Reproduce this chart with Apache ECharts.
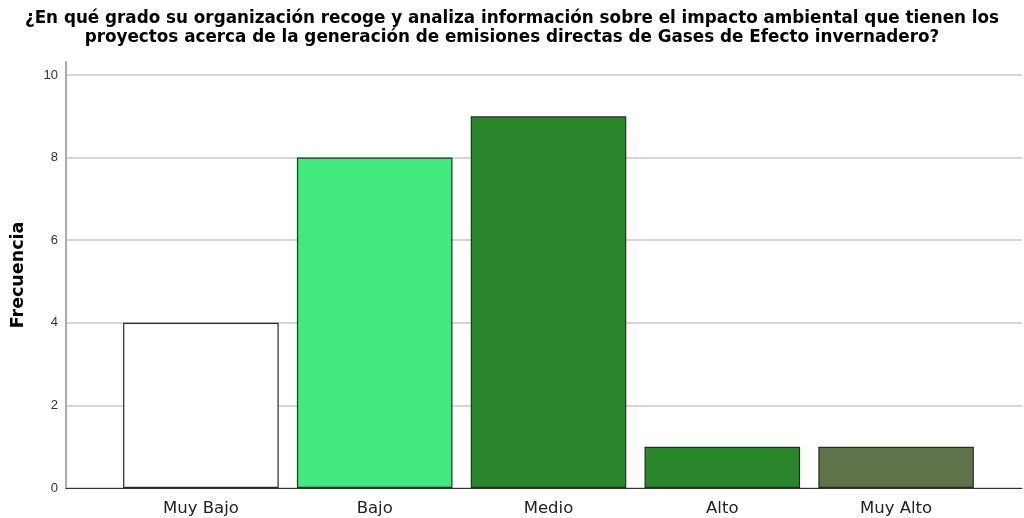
<!DOCTYPE html>
<html>
<head>
<meta charset="utf-8">
<script src="https://cdn.jsdelivr.net/npm/echarts@6/dist/echarts.min.js"></script>
<style>
  html, body { margin: 0; padding: 0; background: #fff; }
  #chart { width: 1024px; height: 518px; }
</style>
</head>
<body>
<div id="chart"></div>
<script>
const categories = ['Muy Bajo', 'Bajo', 'Medio', 'Alto', 'Muy Alto'];
const frecuencias = [4, 8, 9, 1, 1];
const barColors = ['#ffffff', '#42e97f', '#2a872b', '#2a872b', '#5e734a'];
const yTicks = [0, 2, 4, 6, 8, 10];

const chart = echarts.init(document.getElementById('chart'));
const font = '"DejaVu Sans", sans-serif';
const tickFont = 'Arial, "Liberation Sans", sans-serif';

const option = {
  animation: false,
  backgroundColor: '#fff',
  title: {
    text: '¿En qué grado su organización recoge y analiza información sobre el impacto ambiental que tienen los\nproyectos acerca de la generación de emisiones directas de Gases de Efecto invernadero?',
    left: 'center',
    top: 4,
    textStyle: { fontFamily: font, fontSize: 16.8, fontWeight: 'bold', color: '#000', lineHeight: 19 }
  },
  grid: [
    // frame grid: y axis + grid lines
    { left: 66, right: 2, top: 62, bottom: 30, outerBoundsMode: 'none', containLabel: false },
    // bars grid
    { left: 114, right: 41, top: 75, bottom: 30, outerBoundsMode: 'none', containLabel: false }
  ],
  xAxis: [
    {
      gridIndex: 0, type: 'category', data: [''],
      axisLine: { lineStyle: { color: '#333', width: 1 } },
      axisTick: { show: false }, axisLabel: { show: false }
    },
    {
      gridIndex: 1, type: 'category', data: categories,
      axisLine: { show: false }, axisTick: { show: false },
      axisLabel: { fontFamily: font, fontSize: 16.5, color: '#222', margin: 12 }
    }
  ],
  yAxis: [
    {
      gridIndex: 0, type: 'value', min: 0, max: 10 + 13 / 41.3, interval: 2,
      name: 'Frecuencia', nameLocation: 'middle', nameGap: 39, nameRotate: 90,
      nameTextStyle: { fontFamily: font, fontSize: 17.5, fontWeight: 'bold', color: '#000' },
      axisLine: { show: true, lineStyle: { color: '#aaa', width: 2 } },
      axisTick: { show: false },
      axisLabel: {
        fontFamily: tickFont, fontSize: 13, color: '#333', margin: 8,
        showMaxLabel: false,
        formatter: v => (yTicks.includes(v) ? String(v) : '')
      },
      splitLine: { show: true, showMaxLine: false, lineStyle: { color: '#c8c8c8', width: 1.5 } }
    },
    {
      gridIndex: 1, type: 'value', min: 0, max: 10, show: false
    }
  ],
  series: [{
    type: 'bar',
    xAxisIndex: 1, yAxisIndex: 1,
    barCategoryGap: '10.5%',
    data: frecuencias.map((v, i) => ({
      value: v,
      itemStyle: { color: barColors[i], borderColor: '#2b2b2b', borderWidth: 1.2 }
    }))
  }]
};
chart.setOption(option);
</script>
</body>
</html>
